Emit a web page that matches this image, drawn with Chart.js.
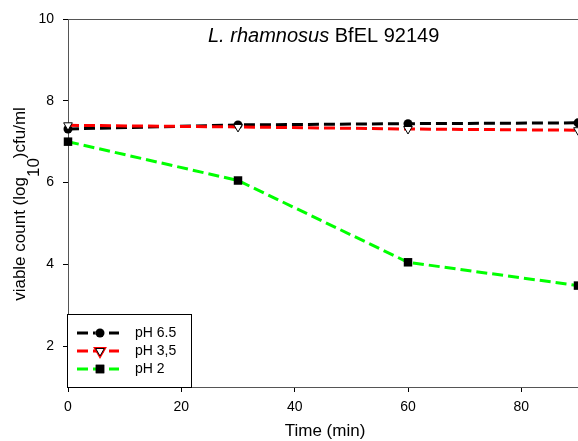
<!DOCTYPE html>
<html>
<head>
<script src="https://cdn.jsdelivr.net/npm/chart.js@4.4.0/dist/chart.umd.min.js"></script>
<style>
  html, body { margin: 0; padding: 0; background: #fff; }
  #wrap { width: 578px; height: 441px; }
</style>
</head>
<body>
<div id="wrap">
  <canvas id="myChart" width="578" height="441"></canvas>
</div>
<script>
// time points (min)
var times = [0, 30, 60, 90];
// viable count, log10 cfu/ml
var ph65 = [7.31, 7.41, 7.44, 7.46];
var ph35 = [7.40, 7.36, 7.31, 7.28];
var ph2 = [7.00, 6.05, 4.05, 3.48];
var seriesNames = ["pH 6.5", "pH 3,5", "pH 2"];
var xTicks = [0, 20, 40, 60, 80];
var yTicks = [2, 4, 6, 8, 10];

function pts(ys) {
  return times.map(function (t, i) { return { x: t, y: ys[i] } })
}

var FONT = "'Liberation Sans', Arial, sans-serif";

// axis titles (y has a subscript), frame top line, plot title and boxed legend
var extras = {
  id: 'extras',
  afterDraw: function (chart) {
    var ctx = chart.ctx
    var a = chart.chartArea
    ctx.save()

    // top frame line
    ctx.strokeStyle = '#555'
    ctx.lineWidth = 1
    ctx.beginPath()
    ctx.moveTo(a.left, a.top + 0.5)
    ctx.lineTo(a.right, a.top + 0.5)
    ctx.stroke()

    // plot title
    ctx.fillStyle = '#000'
    ctx.textBaseline = 'alphabetic'
    ctx.textAlign = 'left'
    var tx = a.left + 140, ty = a.top + 23
    ctx.font = 'italic 20px ' + FONT
    var it = 'L. rhamnosus'
    ctx.fillText(it, tx, ty)
    var w = ctx.measureText(it + ' ').width
    ctx.font = '20px ' + FONT
    ctx.fillText('BfEL 92149', tx + w, ty)

    // x axis title
    ctx.font = '17px ' + FONT
    ctx.textAlign = 'center'
    ctx.fillText('Time (min)', 325, 436)
    ctx.textAlign = 'left'

    // y axis title
    ctx.save()
    ctx.translate(25, (a.top + a.bottom) / 2 + 1)
    ctx.rotate(-Math.PI / 2)
    var p1 = 'viable count (log', p2 = '10', p3 = ')cfu/ml'
    ctx.font = '17px ' + FONT
    var w1 = ctx.measureText(p1).width
    var w2 = ctx.measureText(p2).width
    var w3 = ctx.measureText(p3).width
    var sx = -(w1 + w2 + w3) / 2
    ctx.fillText(p1, sx, 0)
    ctx.fillText(p2, sx + w1, 14)
    ctx.fillText(p3, sx + w1 + w2, 0)
    ctx.restore()

    // legend box
    var bx = a.left - 1, by = 314, bw = 124, bh = a.bottom - 314
    ctx.fillStyle = '#fff'
    ctx.fillRect(bx, by, bw, bh)
    ctx.strokeStyle = '#000'
    ctx.lineWidth = 1
    ctx.strokeRect(bx + 0.5, by + 0.5, bw, bh)
    var rows = [333, 351, 369]
    chart.data.datasets.forEach(function (ds, i) {
      var ry = rows[i]
      ctx.save()
      ctx.strokeStyle = ds.borderColor
      ctx.lineWidth = ds.borderWidth
      ctx.setLineDash(ds.borderDash)
      ctx.beginPath()
      ctx.moveTo(bx + 10, ry)
      ctx.lineTo(bx + 52, ry)
      ctx.stroke()
      ctx.setLineDash([])
      Chart.helpers.drawPoint(ctx, {
        pointStyle: ds.pointStyle,
        rotation: ds.pointRotation || 0,
        radius: ds.pointRadius,
        borderWidth: ds.pointBorderWidth
      }, bx + 33, ry)
      ctx.fillStyle = ds.pointBackgroundColor
      ctx.strokeStyle = ds.pointBorderColor
      ctx.lineWidth = ds.pointBorderWidth
      ctx.fill()
      if (ds.pointBorderWidth > 0) ctx.stroke()
      ctx.restore()
      ctx.fillStyle = '#000'
      ctx.font = '14px ' + FONT
      ctx.textBaseline = 'middle'
      ctx.fillText(ds.label, bx + 68, ry)
    })
    ctx.restore()
  }
}

var dashed = [11, 5]
var data = {
  datasets: [{
    label: seriesNames[0],
    data: pts(ph65),
    borderColor: '#000',
    borderWidth: 3,
    borderDash: dashed,
    pointStyle: 'circle',
    pointRadius: 4.5,
    pointBackgroundColor: '#000',
    pointBorderColor: '#000',
    pointBorderWidth: 0,
    order: 2,
    clip: false
  }, {
    label: seriesNames[1],
    data: pts(ph35),
    borderColor: '#ff0000',
    borderWidth: 3,
    borderDash: dashed,
    pointStyle: 'triangle',
    pointRotation: 180,
    pointRadius: 5,
    pointBackgroundColor: '#fff',
    pointBorderColor: '#000',
    pointBorderWidth: 1,
    order: 1,
    clip: false
  }, {
    label: seriesNames[2],
    data: pts(ph2),
    borderColor: '#00ff00',
    borderWidth: 3,
    borderDash: dashed,
    pointStyle: 'rect',
    pointRadius: 6,
    pointBackgroundColor: '#000',
    pointBorderColor: '#000',
    pointBorderWidth: 0,
    order: 0,
    clip: false
  }]
}

var ctx = document.getElementById('myChart').getContext('2d')
var myChart = new Chart(ctx, {
  type: 'line',
  data: data,
  plugins: [extras],
  options: {
    responsive: false,
    animation: false,
    layout: { autoPadding: false, padding: { top: 19, right: -2, left: 0, bottom: 0 } },
    plugins: { legend: { display: false }, tooltip: { enabled: false } },
    scales: {
      x: {
        type: 'linear',
        min: 0,
        max: 90,
        afterBuildTicks: function (s) { s.ticks = xTicks.map(function (v) { return { value: v } }) },
        afterFit: function (s) { s.height = 54 },
        grid: { display: true, drawOnChartArea: false, drawTicks: true, tickLength: 5, color: '#000' },
        border: { display: true, color: '#555', width: 1 },
        ticks: { color: '#000', font: { family: FONT, size: 14 }, padding: 7, maxRotation: 0 }
      },
      y: {
        type: 'linear',
        min: 1,
        max: 10,
        afterBuildTicks: function (s) { s.ticks = yTicks.map(function (v) { return { value: v } }) },
        afterFit: function (s) { s.width = 68 },
        grid: { display: true, drawOnChartArea: false, drawTicks: true, tickLength: 5, color: '#000' },
        border: { display: true, color: '#555', width: 1 },
        ticks: { color: '#000', font: { family: FONT, size: 14 }, padding: 9 }
      }
    }
  }
})
</script>
</body>
</html>
